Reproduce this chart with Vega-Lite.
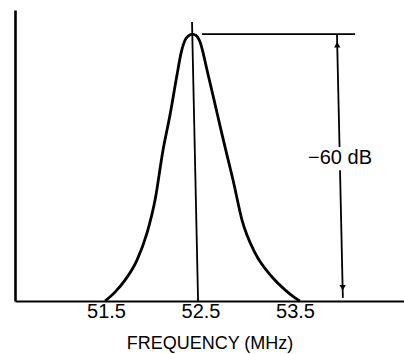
{
  "$schema": "https://vega.github.io/schema/vega-lite/v6.json",
  "width": 389,
  "height": 291,
  "autosize": {"type": "none"},
  "padding": {"left": 15, "top": 10, "right": 0, "bottom": 53},
  "background": "white",
  "config": {
    "view": {"stroke": null},
    "font": "Liberation Sans",
    "axis": {"grid": false}
  },
  "datasets": {
    "curve": [
      {"freq": 51.49, "db": -60.0},
      {"freq": 51.595, "db": -58.0},
      {"freq": 51.701, "db": -55.3},
      {"freq": 51.828, "db": -50.8},
      {"freq": 51.934, "db": -44.7},
      {"freq": 52.019, "db": -37.3},
      {"freq": 52.103, "db": -26.1},
      {"freq": 52.177, "db": -18.2},
      {"freq": 52.251, "db": -9.2},
      {"freq": 52.294, "db": -4.3},
      {"freq": 52.336, "db": -1.4},
      {"freq": 52.368, "db": -0.5},
      {"freq": 52.41, "db": 0.0},
      {"freq": 52.452, "db": -0.3},
      {"freq": 52.495, "db": -1.8},
      {"freq": 52.569, "db": -8.1},
      {"freq": 52.643, "db": -14.8},
      {"freq": 52.717, "db": -21.6},
      {"freq": 52.78, "db": -27.2},
      {"freq": 52.844, "db": -32.8},
      {"freq": 52.939, "db": -41.8},
      {"freq": 53.077, "db": -49.2},
      {"freq": 53.257, "db": -54.6},
      {"freq": 53.394, "db": -57.5},
      {"freq": 53.5, "db": -59.3},
      {"freq": 53.55, "db": -60.0}
    ],
    "guides": [
      {"part": "center", "freq": 52.41, "db": 2.7},
      {"part": "center", "freq": 52.474, "db": -60.0},
      {"part": "top", "freq": 52.516, "db": 0.0},
      {"part": "top", "freq": 54.135, "db": 0.0},
      {"part": "arrowUp", "freq": 53.944, "db": -0.2},
      {"part": "arrowUp", "freq": 53.971, "db": -25.4},
      {"part": "arrowDown", "freq": 53.976, "db": -30.6},
      {"part": "arrowDown", "freq": 54.006, "db": -59.3}
    ],
    "heads": [
      {"dir": "up", "freq": 53.946, "db": -2.4},
      {"dir": "down", "freq": 54.004, "db": -57.0}
    ],
    "label": [
      {"freq": 53.976, "db": -27.9, "text": "−60 dB"}
    ]
  },
  "encoding": {
    "x": {
      "field": "freq",
      "type": "quantitative",
      "scale": {"domain": [50.537, 54.653], "nice": false, "zero": false},
      "axis": {
        "values": [51.5, 52.5, 53.5],
        "format": ".1f",
        "ticks": false,
        "domainColor": "black",
        "domainWidth": 2.2,
        "labelFontSize": 20,
        "labelColor": "black",
        "labelPadding": 0,
        "labelFont": "Liberation Sans",
        "title": "FREQUENCY (MHz)",
        "titleFontSize": 18,
        "titleFontWeight": "normal",
        "titleColor": "black",
        "titleFont": "Liberation Sans",
        "titlePadding": 13
      }
    },
    "y": {
      "field": "db",
      "type": "quantitative",
      "scale": {"domain": [-60, 5.4], "nice": false, "zero": false},
      "axis": {
        "ticks": false,
        "labels": false,
        "title": null,
        "domainColor": "black",
        "domainWidth": 2.6
      }
    }
  },
  "layer": [
    {
      "data": {"name": "curve"},
      "mark": {"type": "line", "color": "black", "strokeWidth": 2.8, "interpolate": "monotone"}
    },
    {
      "data": {"name": "guides"},
      "mark": {"type": "line", "color": "black", "strokeWidth": 1.8},
      "encoding": {"detail": {"field": "part"}}
    },
    {
      "data": {"name": "heads"},
      "mark": {"type": "point", "filled": true, "color": "black", "opacity": 1, "size": 40},
      "encoding": {
        "shape": {
          "field": "dir",
          "type": "nominal",
          "scale": {"domain": ["up", "down"], "range": ["triangle-up", "triangle-down"]},
          "legend": null
        }
      }
    },
    {
      "data": {"name": "label"},
      "mark": {"type": "text", "fontSize": 20, "color": "black", "align": "center", "baseline": "middle", "font": "Liberation Sans"},
      "encoding": {"text": {"field": "text"}}
    }
  ]
}
